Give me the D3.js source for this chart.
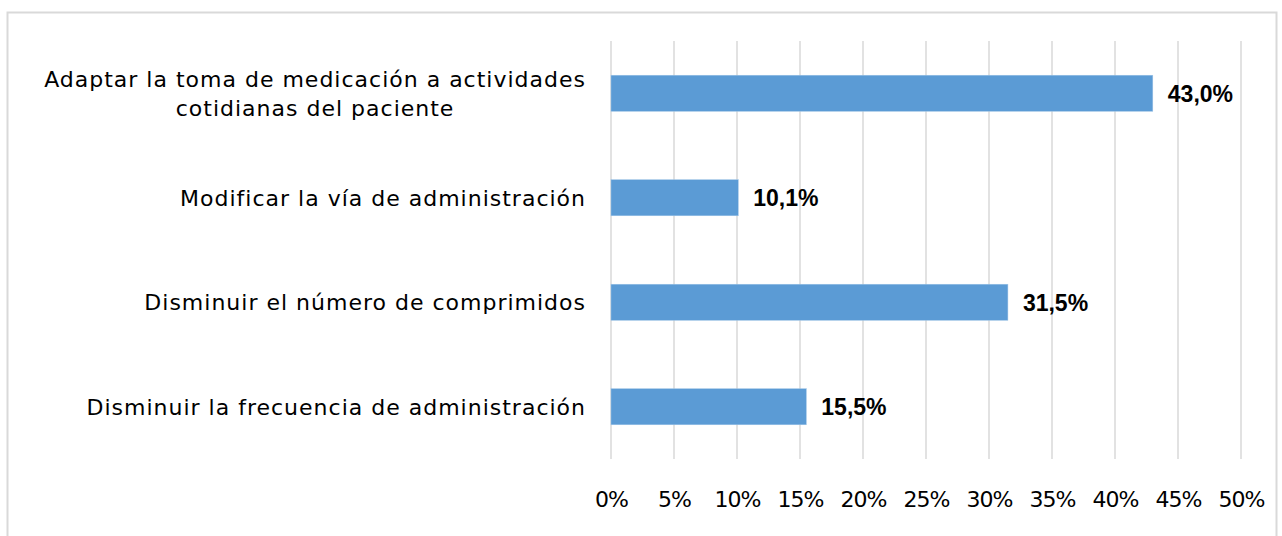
<!DOCTYPE html>
<html><head><meta charset="utf-8">
<script src="https://cdn.jsdelivr.net/npm/d3@7"></script>
<style>
html,body{margin:0;padding:0;background:#fff;}
svg{display:block;}
</style></head>
<body>
<svg id="chart" width="1282" height="536"></svg>
<script>
const categories = [
  ["Adaptar la toma de medicación a actividades", "cotidianas del paciente"],
  ["Modificar la vía de administración"],
  ["Disminuir el número de comprimidos"],
  ["Disminuir la frecuencia de administración"]
];
const values = [43.0, 10.1, 31.5, 15.5];
const valueLabels = ["43,0%", "10,1%", "31,5%", "15,5%"];
const tickValues = [0, 5, 10, 15, 20, 25, 30, 35, 40, 45, 50];
const tickLabels = ["0%", "5%", "10%", "15%", "20%", "25%", "30%", "35%", "40%", "45%", "50%"];

const svg = d3.select("#chart");
const catFont = "'DejaVu Sans', sans-serif";
const plot = {left: 611, right: 1241, top: 41, bottom: 459};

// chart border
svg.append("rect").attr("x", 7.5).attr("y", 12.5).attr("width", 1269).attr("height", 540)
  .attr("fill", "#fff").attr("stroke", "#d9d9d9").attr("stroke-width", 2);

const x = d3.scaleLinear().domain([0, 50]).range([plot.left, plot.right]);
const idx = d3.range(categories.length);
const y = d3.scaleBand().domain(idx).range([plot.top, plot.bottom])
  .paddingInner(0.655).paddingOuter(0.3275);

// gridlines
svg.append("g").selectAll("line").data(tickValues).join("line")
  .attr("x1", d => x(d)).attr("x2", d => x(d))
  .attr("y1", plot.top).attr("y2", plot.bottom)
  .attr("stroke", "#d9d9d9").attr("stroke-width", 1.5);

// x axis tick labels
const xAxis = d3.axisBottom(x).tickValues(tickValues).tickFormat((d, i) => tickLabels[i]).tickSize(0).tickPadding(0);
const gx = svg.append("g").attr("transform", `translate(0, ${plot.bottom + 32})`).call(xAxis);
gx.select(".domain").remove();
gx.selectAll("text").attr("font-family", catFont).attr("font-size", 22).attr("letter-spacing", -1)
  .attr("fill", "#000").attr("dy", "0.71em");

// bars
svg.append("g").selectAll("rect").data(idx).join("rect")
  .attr("x", x(0)).attr("y", i => y(i))
  .attr("width", i => x(values[i]) - x(0)).attr("height", y.bandwidth())
  .attr("fill", "#5b9bd5").attr("stroke", "#9dc3e6").attr("stroke-width", 0.5);

// value labels
svg.append("g").selectAll("text").data(idx).join("text")
  .attr("x", i => x(values[i]) + 15).attr("y", i => y(i) + y.bandwidth() / 2)
  .attr("dy", "0.36em").attr("font-family", "'Liberation Sans', Arial, sans-serif")
  .attr("font-weight", "bold").attr("font-size", 23).attr("fill", "#000")
  .text(i => valueLabels[i]);

// category labels
const labelRight = 586;
const catG = svg.append("g");
idx.forEach(i => {
  const lines = categories[i];
  const t = catG.append("text").attr("font-family", catFont).attr("font-size", 22).attr("fill", "#000")
    .attr("letter-spacing", 1).attr("text-anchor", "middle");
  const lh = 29;
  const cy = y(i) + y.bandwidth() / 2;
  lines.forEach((ln, k) => {
    t.append("tspan").attr("y", cy + (k - (lines.length - 1) / 2) * lh).attr("dy", "0.36em").text(ln);
  });
  let w = 0;
  t.selectAll("tspan").each(function(){ w = Math.max(w, this.getComputedTextLength()); });
  t.selectAll("tspan").attr("x", labelRight - w / 2);
});
</script>
</body></html>
